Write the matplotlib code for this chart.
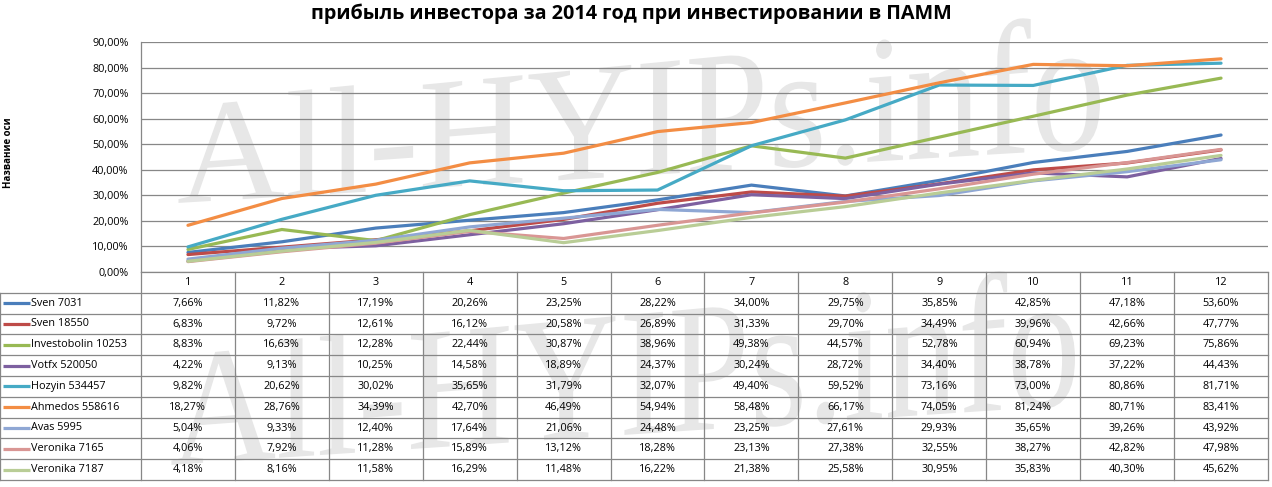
import numpy as np
import matplotlib
matplotlib.use("Agg")
import matplotlib.pyplot as plt
from matplotlib.textpath import TextPath
from matplotlib.font_manager import FontProperties
from matplotlib.patches import PathPatch
from matplotlib.path import Path
from matplotlib.transforms import IdentityTransform

# ---- data (percent) ----
months = list(range(1, 13))
names = ["Sven 7031", "Sven 18550", "Investobolin 10253", "Votfx 520050", "Hozyin 534457",
         "Ahmedos 558616", "Avas 5995", "Veronika 7165", "Veronika 7187"]
sven_7031 = [7.66, 11.82, 17.19, 20.26, 23.25, 28.22, 34.00, 29.75, 35.85, 42.85, 47.18, 53.60]
sven_18550 = [6.83, 9.72, 12.61, 16.12, 20.58, 26.89, 31.33, 29.70, 34.49, 39.96, 42.66, 47.77]
investobolin_10253 = [8.83, 16.63, 12.28, 22.44, 30.87, 38.96, 49.38, 44.57, 52.78, 60.94, 69.23, 75.86]
votfx_520050 = [4.22, 9.13, 10.25, 14.58, 18.89, 24.37, 30.24, 28.72, 34.40, 38.78, 37.22, 44.43]
hozyin_534457 = [9.82, 20.62, 30.02, 35.65, 31.79, 32.07, 49.40, 59.52, 73.16, 73.00, 80.86, 81.71]
ahmedos_558616 = [18.27, 28.76, 34.39, 42.70, 46.49, 54.94, 58.48, 66.17, 74.05, 81.24, 80.71, 83.41]
avas_5995 = [5.04, 9.33, 12.40, 17.64, 21.06, 24.48, 23.25, 27.61, 29.93, 35.65, 39.26, 43.92]
veronika_7165 = [4.06, 7.92, 11.28, 15.89, 13.12, 18.28, 23.13, 27.38, 32.55, 38.27, 42.82, 47.98]
veronika_7187 = [4.18, 8.16, 11.58, 16.29, 11.48, 16.22, 21.38, 25.58, 30.95, 35.83, 40.30, 45.62]
series = [sven_7031, sven_18550, investobolin_10253, votfx_520050, hozyin_534457,
          ahmedos_558616, avas_5995, veronika_7165, veronika_7187]
colors = ["#4A7EBB", "#BE4B48", "#98B954", "#7D60A0", "#46AAC5",
          "#F38D44", "#8FA7D4", "#D99694", "#B9CD96"]

title = "прибыль инвестора за 2014 год при инвестировании в ПАММ"
ylabel = "Название оси"

W, H = 1272, 487
FONT = ["Open Sans", "DejaVu Sans"]
GRID = "#878787"


def pct(v):
    return f"{v:.2f}%".replace(".", ",")


def watermark(fig, x0, x1, base0, base1, em0, em1, lean=0.0):
    # grey serif watermark, letters grow to the right (looks like perspective)
    tp = TextPath((0, 0), "All-HYIPs.info", size=1, prop=FontProperties(family="Liberation Serif"))
    v = tp.vertices.copy()
    u0, u1 = v[:, 0].min(), v[:, 0].max()
    t = (v[:, 0] - u0) / (u1 - u0)
    em = em0 + (em1 - em0) * t
    base = base0 + (base1 - base0) * t
    px = x0 + t * (x1 - x0) + lean * v[:, 1] * em
    py = base - v[:, 1] * em
    path = Path(np.column_stack([px, H - py]), tp.codes)
    fig.add_artist(PathPatch(path, transform=IdentityTransform(), facecolor="#e7e7e7",
                             edgecolor="none", zorder=-1))


fig = plt.figure(figsize=(W / 100, H / 100), dpi=100)
fig.patch.set_facecolor("white")

watermark(fig, 177, 1100, 203, 148, 145, 195)
watermark(fig, 170, 1075, 465, 405, 165, 200)

# ---- chart area ----
left, right = 141, 1268
top, bottom = 42, 272
ax = fig.add_axes([left / W, (H - bottom) / H, (right - left) / W, (bottom - top) / H])
ax.set_facecolor("none")
for s, c in zip(series, colors):
    ax.plot(months, s, color=c, lw=2.3, solid_joinstyle="round", solid_capstyle="round", zorder=3)
ax.set_xlim(0.5, 12.5)
ax.set_ylim(0, 90)
ax.set_yticks(np.arange(0, 91, 10))
ax.set_yticklabels([pct(v) for v in np.arange(0, 91, 10)], fontsize=7.8, family=FONT)
ax.set_xticks([])
ax.tick_params(axis="y", length=0, pad=9)
ax.yaxis.grid(True, color=GRID, lw=0.9)
ax.set_axisbelow(True)
for k in ["top", "right", "bottom"]:
    ax.spines[k].set_visible(False)
ax.spines["left"].set_color(GRID)
ax.spines["left"].set_linewidth(0.9)

fig.text(631 / W, 1 - 14 / H, title, ha="center", va="center", fontsize=14.2,
         fontweight="bold", family=FONT)
fig.text(9 / W, 1 - 153 / H, ylabel, ha="center", va="center", rotation=90,
         fontsize=7, fontweight="bold", family=FONT)

# ---- data table under the chart ----
tab_top, tab_bot = 272, 480
tx = fig.add_axes([0, (H - tab_bot) / H, right / W, (tab_bot - tab_top) / H])
tx.set_facecolor("none")
tx.set_xlim(-1.0, 12.5)
tx.set_ylim(10, 0)
tx.axis("off")

nrow = len(series)
for x in np.arange(0.5, 13.0, 1.0):
    tx.plot([x, x], [0, nrow + 1], color=GRID, lw=0.9, clip_on=False)
tx.plot([-0.995, -0.995], [1, nrow + 1], color=GRID, lw=0.9, clip_on=False)
tx.plot([0.5, 12.5], [0, 0], color=GRID, lw=0.9, clip_on=False)
for y in range(1, nrow + 2):
    tx.plot([-1.0, 12.5], [y, y], color=GRID, lw=0.9, clip_on=False)

for m in months:
    tx.text(m, 0.5, str(m), ha="center", va="center", fontsize=7.8, family=FONT)

for i, (name, s, c) in enumerate(zip(names, series, colors)):
    yc = i + 1.5
    tx.plot([-0.968, -0.685], [yc, yc], color=c, lw=2.3, solid_capstyle="butt", clip_on=False)
    tx.text(-0.665, yc, name, ha="left", va="center", fontsize=7.8, family=FONT)
    for m, v in zip(months, s):
        tx.text(m, yc, pct(v), ha="center", va="center", fontsize=7.8, family=FONT)

fig.savefig("out.png", dpi=100)
